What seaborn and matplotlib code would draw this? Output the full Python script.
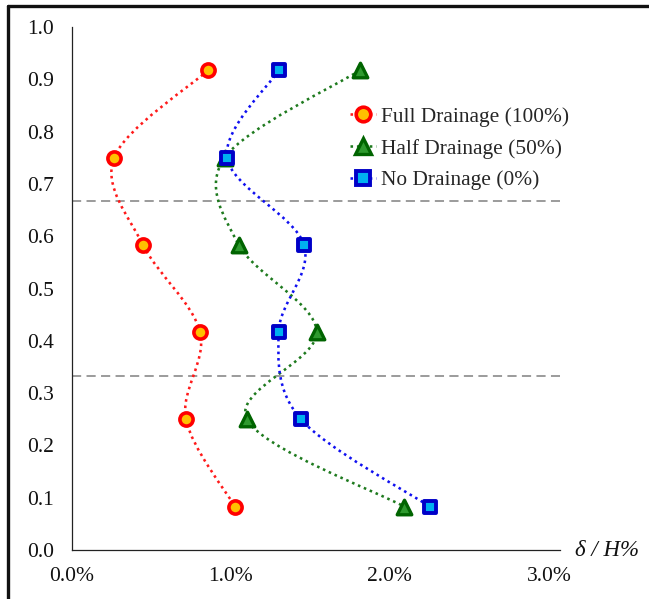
import numpy as np
import matplotlib
matplotlib.use("Agg")
import matplotlib.pyplot as plt
from matplotlib.path import Path
from matplotlib.patches import PathPatch
from matplotlib.lines import Line2D
import seaborn as sns

# ---- data (x in % of H, y = relative height) ----
heights = [0.917, 0.750, 0.583, 0.417, 0.250, 0.083]
full_drainage = [0.855, 0.264, 0.447, 0.805, 0.717, 1.025]
half_drainage = [1.81, 0.96, 1.05, 1.54, 1.10, 2.09]
no_drainage = [1.30, 0.975, 1.46, 1.30, 1.44, 2.25]
series_labels = ["Full Drainage (100%)", "Half Drainage (50%)", "No Drainage (0%)"]
x_ticks = [0, 1, 2, 3]
x_tick_labels = ["0.0%", "1.0%", "2.0%", "3.0%"]
y_ticks = [0.0, 0.1, 0.2, 0.3, 0.4, 0.5, 0.6, 0.7, 0.8, 0.9, 1.0]
y_tick_labels = ["0.0", "0.1", "0.2", "0.3", "0.4", "0.5", "0.6", "0.7", "0.8", "0.9", "1.0"]
zone_lines = [1 / 3, 2 / 3]
x_label = "δ / H%"

sns.set_style("white")
plt.rcParams["font.family"] = ["Liberation Serif", "DejaVu Serif"]

fig = plt.figure(figsize=(6.49, 5.99), dpi=100)
ax = fig.add_axes([72 / 649, 1 - 550 / 599, (560 - 72) / 649, (550 - 27) / 599])


def smooth_path(xs, ys):
    pts = np.column_stack([xs, ys]).astype(float)
    n = len(pts)
    verts = [pts[0]]
    codes = [Path.MOVETO]
    for i in range(n - 1):
        p0 = pts[i - 1] if i > 0 else pts[i]
        p1 = pts[i]
        p2 = pts[i + 1]
        p3 = pts[i + 2] if i + 2 < n else pts[i + 1]
        c1 = p1 + (p2 - p0) / 6.0
        c2 = p2 - (p3 - p1) / 6.0
        verts += [c1, c2, p2]
        codes += [Path.CURVE4] * 3
    return Path(verts, codes)


dot_style = (0, (1, 1.5))
line_w = 1.85
styles = [
    dict(vals=full_drainage, line="#FF1A1A", marker="o", face="#FFC000", edge="#FF0000", s=90, lw=2.6, ms=10.5),
    dict(vals=half_drainage, line="#1E7A1E", marker="^", face="#2E9A2E", edge="#006400", s=110, lw=2.4, ms=11),
    dict(vals=no_drainage, line="#1010F0", marker="s", face="#00B0F0", edge="#0000C8", s=82, lw=2.8, ms=9.8),
]

for z, st in enumerate(styles):
    patch = PathPatch(smooth_path(st["vals"], heights), facecolor="none",
                      edgecolor=st["line"], lw=line_w, linestyle=dot_style, zorder=2 + 2 * z)
    ax.add_patch(patch)
    sns.scatterplot(x=st["vals"], y=heights, ax=ax, marker=st["marker"], s=st["s"],
                    color=st["face"], edgecolor=st["edge"], linewidth=st["lw"],
                    zorder=3 + 2 * z, legend=False)

for yv in zone_lines:
    ax.axhline(yv, color="#808080", lw=1.1, linestyle=(0, (6, 3.5)), zorder=1)

ax.set_xlim(0, 3.07)
ax.set_ylim(0, 1.0)
ax.set_xticks(x_ticks)
ax.set_xticklabels(x_tick_labels)
ax.set_yticks(y_ticks)
ax.set_yticklabels(y_tick_labels)
ax.tick_params(axis="both", direction="out", length=5.5, width=0.8, color="#333333",
               labelsize=15.5, labelcolor="#111111")
ax.tick_params(axis="y", pad=7.5)
ax.tick_params(axis="x", pad=6.5)
ax.set_xlabel("")
ax.set_ylabel("")
for side in ["top", "right"]:
    ax.spines[side].set_visible(False)
for side in ["left", "bottom"]:
    ax.spines[side].set_color("#222222")
    ax.spines[side].set_linewidth(0.9)
ax.set_facecolor("white")

fig.text(575 / 649, 1 - 551 / 599, x_label, ha="left", va="center",
         fontsize=16.5, fontstyle="italic", color="#111111")

handles = [Line2D([], [], color=st["line"], lw=line_w, linestyle=dot_style, marker=st["marker"],
                  markerfacecolor=st["face"], markeredgecolor=st["edge"],
                  markersize=st["ms"], markeredgewidth=st["lw"]) for st in styles]
fig.legend(handles, series_labels, loc="upper left", bbox_to_anchor=(350 / 649, 1 - 107 / 599),
           bbox_transform=fig.transFigure, frameon=False, fontsize=15.4, borderpad=0,
           borderaxespad=0, handlelength=1.2, handletextpad=0.25, labelspacing=0.55)

# figure frame (top and left edges)
fig.add_artist(Line2D([7.5 / 649, 1], [1 - 6 / 599, 1 - 6 / 599], color="#111111", lw=2.4,
                      transform=fig.transFigure))
fig.add_artist(Line2D([7.5 / 649, 7.5 / 649], [0, 1 - 6 / 599], color="#111111", lw=2.4,
                      transform=fig.transFigure))

fig.savefig("out.png", dpi=100)
